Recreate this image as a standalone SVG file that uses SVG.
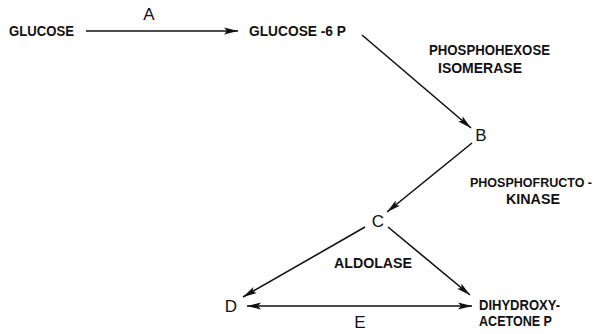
<svg xmlns="http://www.w3.org/2000/svg" width="604" height="334" viewBox="0 0 604 334">
<style>
.n{font-family:"Liberation Sans",Arial,sans-serif;font-weight:bold;font-size:14px;fill:#111}
.l{font-family:"Liberation Sans",Arial,sans-serif;font-size:17px;fill:#111}
.e{stroke:#111;stroke-width:1.6;fill:none}
</style>
<defs>
<marker id="ah" markerUnits="userSpaceOnUse" markerWidth="15" markerHeight="9" refX="14" refY="4" orient="auto-start-reverse">
<path d="M0,0.6 L14,4 L0,7.4 L3,4 z" fill="#111"/>
</marker>
</defs>
<rect width="604" height="334" fill="#fff"/>
<g id="connectors">
<line class="e" x1="86" y1="31" x2="238" y2="31" marker-end="url(#ah)"/>
<line class="e" x1="362" y1="35" x2="471" y2="128" marker-end="url(#ah)"/>
<line class="e" x1="472" y1="143" x2="387" y2="212" marker-end="url(#ah)"/>
<line class="e" x1="365" y1="227" x2="243" y2="297" marker-end="url(#ah)"/>
<line class="e" x1="388" y1="227" x2="470" y2="295" marker-end="url(#ah)"/>
<line class="e" x1="247" y1="306" x2="472" y2="306" marker-start="url(#ah)" marker-end="url(#ah)"/>
</g>
<g id="labels">
<text class="l" x="149" y="20" text-anchor="middle">A</text>
<text class="n" x="429" y="55" textLength="121" lengthAdjust="spacingAndGlyphs">PHOSPHOHEXOSE</text>
<text class="n" x="438" y="73" textLength="84" lengthAdjust="spacingAndGlyphs">ISOMERASE</text>
<text class="n" x="470" y="187" style="font-size:12.5px" textLength="122" lengthAdjust="spacingAndGlyphs">PHOSPHOFRUCTO -</text>
<text class="n" x="506" y="204" textLength="54" lengthAdjust="spacingAndGlyphs">KINASE</text>
<text class="n" x="334" y="268" textLength="78" lengthAdjust="spacingAndGlyphs">ALDOLASE</text>
<text class="l" x="360" y="328" text-anchor="middle">E</text>
</g>
<g id="glucose"><text class="n" x="9" y="36" textLength="65" lengthAdjust="spacingAndGlyphs">GLUCOSE</text></g>
<g id="glucose-6p"><text class="n" x="249" y="36" textLength="97" lengthAdjust="spacingAndGlyphs">GLUCOSE -6 P</text></g>
<g id="B"><text class="l" x="481" y="141" text-anchor="middle">B</text></g>
<g id="C"><text class="l" x="378" y="227" text-anchor="middle">C</text></g>
<g id="D"><text class="l" x="231" y="312" text-anchor="middle">D</text></g>
<g id="dhap">
<text class="n" x="479" y="310" textLength="81" lengthAdjust="spacingAndGlyphs">DIHYDROXY-</text>
<text class="n" x="479" y="326" textLength="73" lengthAdjust="spacingAndGlyphs">ACETONE P</text>
</g>
</svg>
